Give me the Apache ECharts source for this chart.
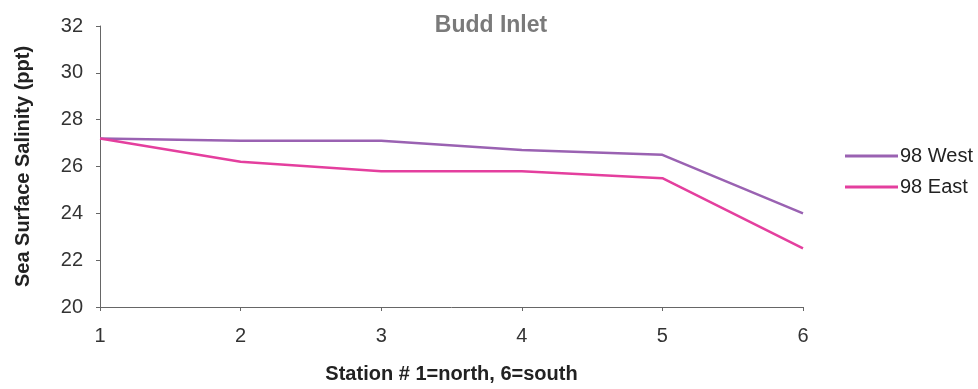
<!DOCTYPE html>
<html><head><meta charset="utf-8">
<script src="https://cdn.jsdelivr.net/npm/echarts@6/dist/echarts.min.js"></script>
<style>html,body{margin:0;padding:0;background:#fff}#c{width:978px;height:389px}</style>
</head><body><div id="c"></div>
<script>
const stations = ['1','2','3','4','5','6'];
const west98 = [27.2, 27.1, 27.1, 26.7, 26.5, 24.0];
const east98 = [27.2, 26.2, 25.8, 25.8, 25.5, 22.5];
const yTicks = [20, 22, 24, 26, 28, 30, 32];

const chart = echarts.init(document.getElementById('c'));
chart.setOption({
  animation: false,
  backgroundColor: '#fff',
  title: {
    text: 'Budd Inlet', left: 486, top: 9, textAlign: 'center',
    textStyle: {fontFamily: 'Liberation Sans', fontSize: 23, fontWeight: 'bold', color: '#7a7a7a'}
  },
  legend: {
    orient: 'vertical', left: 840, top: 141, itemGap: 11, itemWidth: 53, itemHeight: 3,
    icon: 'rect',
    textStyle: {fontFamily: 'Liberation Sans', fontSize: 20, lineHeight: 20, color: '#222', padding: [0,0,0,-3]},
    data: ['98 West', '98 East']
  },
  grid: {left: 100, right: 175, top: 26, bottom: 80},
  xAxis: {
    type: 'category', data: stations, boundaryGap: false,
    name: 'Station # 1=north, 6=south', nameLocation: 'middle', nameGap: 57,
    nameTextStyle: {fontFamily: 'Liberation Sans', fontSize: 20, fontWeight: 'bold', color: '#222'},
    axisLine: {lineStyle: {color: '#666', width: 1}},
    axisTick: {show: true, length: 4, lineStyle: {color: '#666'}},
    axisLabel: {fontFamily: 'Liberation Sans', fontSize: 20, color: '#333', margin: 19},
    splitLine: {show: false}
  },
  yAxis: {
    type: 'value', min: yTicks[0], max: yTicks[yTicks.length-1], interval: 2,
    name: 'Sea Surface Salinity (ppt)', nameLocation: 'middle', nameGap: 67, nameRotate: 90,
    nameTextStyle: {fontFamily: 'Liberation Sans', fontSize: 20, fontWeight: 'bold', color: '#222'},
    axisLine: {show: true, lineStyle: {color: '#666', width: 1}},
    axisTick: {show: true, length: 4, lineStyle: {color: '#666'}},
    axisLabel: {fontFamily: 'Liberation Sans', fontSize: 20, color: '#333', margin: 17},
    splitLine: {show: false}
  },
  series: [
    {name: '98 West', type: 'line', data: west98, symbol: 'none',
     lineStyle: {color: '#9a62b2', width: 2.5}, itemStyle: {color: '#9a62b2'}},
    {name: '98 East', type: 'line', data: east98, symbol: 'none',
     lineStyle: {color: '#e43f9e', width: 2.5}, itemStyle: {color: '#e43f9e'}}
  ]
});
</script></body></html>
